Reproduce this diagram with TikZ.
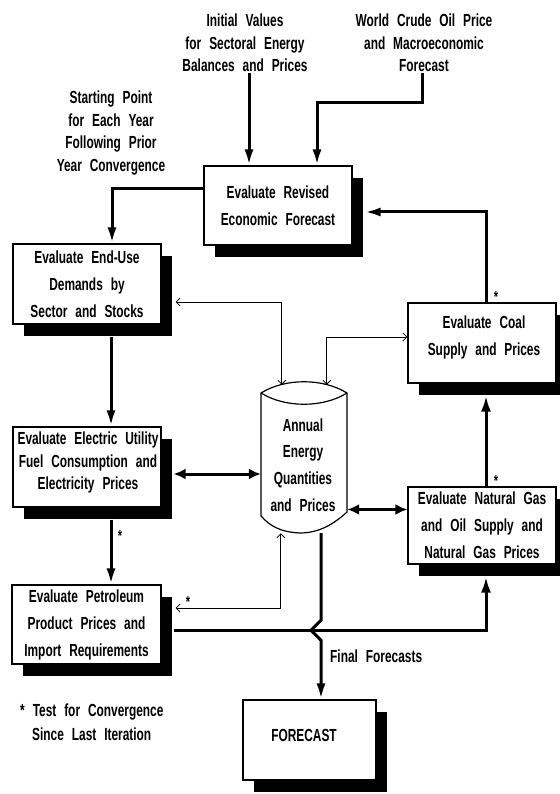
\documentclass[tikz,border=0pt]{standalone}
\usepackage{fontspec}
\setmainfont{Liberation Sans}[FakeStretch=0.68,WordSpace=2.4]
\usetikzlibrary{arrows.meta,shadows}
\tikzset{
  lbl/.style={font=\bfseries\fontsize{17.5}{22.5}\selectfont, align=center, inner sep=1pt},
  boxtxt/.style={font=\bfseries\fontsize{17.5}{27}\selectfont, align=center, inner sep=0pt},
  box/.style={draw, line width=1.2pt, fill=white, minimum width=148pt, minimum height=80pt,
    boxtxt, drop shadow={shadow xshift=11pt,shadow yshift=-12pt,opacity=1,fill=black}},
  heavy/.style={line width=3pt, -{Latex[length=16pt,width=9pt]}},
  heavyopen/.style={line width=3pt, -{Latex[open,length=16pt,width=10pt]}},
  heavyboth/.style={line width=3pt, {Latex[length=12pt,width=11pt]}-{Latex[length=12pt,width=11pt]}},
  light/.style={line width=0.8pt, {Straight Barb[length=4pt,width=8pt]}-{Straight Barb[length=4pt,width=8pt]}},
  star/.style={font=\bfseries\fontsize{16}{16}\selectfont, inner sep=0pt},
}
\begin{document}
\begin{tikzpicture}[x=1pt,y=-1pt]
\fill[white] (0,0) rectangle (559,794);
\useasboundingbox (0,0) rectangle (559,794);

% labels
\node[lbl] (iv) at (245,43) {Initial Values\\for Sectoral Energy\\Balances and Prices};
\node[lbl] (wo) at (424,43) {World Crude Oil Price\\and Macroeconomic\\Forecast};
\node[lbl] (sp) at (111,133) {Starting Point\\for Each Year\\Following Prior\\Year Convergence};

% boxes
\node[box, minimum height=79pt] (ref) at (278,205.5) {Evaluate Revised\\Economic Forecast};
\node[box] (eu) at (87,284) {Evaluate End-Use\\Demands by\\Sector and Stocks};
\node[box] (el) at (87,467) {};
\node[boxtxt, font=\bfseries\fontsize{17.5}{22.5}\selectfont] (elt) at (88,462.5) {Evaluate Electric Utility\\Fuel Consumption and\\Electricity Prices};
\node[box, minimum width=149pt, minimum height=79pt] (pe) at (86.5,624.5) {Evaluate Petroleum\\Product Prices and\\Import Requirements};
\node[box, minimum width=133pt] (fc) at (309.5,740) {};
\node[boxtxt] (fct) at (304,735) {FORECAST};
\node[box] (co) at (482,343) {};
\node[boxtxt] (cot) at (484,337) {Evaluate Coal\\Supply and Prices};
\node[box, minimum height=77pt] (ng) at (482,525.5) {Evaluate Natural Gas\\and Oil Supply and\\Natural Gas Prices};

% database geometry holder
\node[minimum width=86pt, minimum height=148pt, inner sep=0pt] (db) at (304,459) {};

% coordinates
\coordinate (e1) at ([xshift=12pt,yshift=-7pt]el.east);
\coordinate (g1) at ([yshift=16pt]ng.west);
\coordinate (t1) at ([xshift=14pt,yshift=-18pt]eu.east);
\coordinate (t2) at ([yshift=6pt]co.west);
\coordinate (t3) at ([xshift=14pt,yshift=16.5pt]pe.east);

% heavy connectors
\draw[heavy] ([xshift=4pt]iv.south) -- ([xshift=-29pt]ref.north);
\draw[heavy] ([xshift=-2pt]wo.south) -- ++(0,29) -| ([xshift=39pt]ref.north);
\draw[heavy] ([yshift=16.5pt]ref.west) -| ([xshift=25pt]eu.north);
\draw[heavy] ([xshift=24pt,yshift=-12pt]eu.south) -- ([xshift=24pt]el.north);
\draw[heavy] ([xshift=24pt,yshift=-12pt]el.south) -- ([xshift=24.5pt]pe.north);
\draw[heavyboth] (e1) -- (e1 -| db.west);
\draw[heavyboth] (g1 -| db.east) -- (g1);
\draw[heavyopen] ([xshift=4pt]ng.north) -- ([xshift=4pt,yshift=-12pt]co.south);
\draw[heavy] ([xshift=4pt]co.north) |- ([xshift=12pt,yshift=-6.5pt]ref.east);
\draw[heavyopen] ([xshift=12pt,yshift=-5.5pt]pe.east) -| ([xshift=4pt,yshift=-12pt]ng.south);
\draw[heavy] ([xshift=17pt]db.south) -- ++(0,87) -- ++(-10,10) -- ++(10,10) -- ([xshift=11.5pt]fc.north);

% light connectors
\draw[light] (t1) -| ([xshift=21pt]db.north west);
\draw[light] ([xshift=66pt]db.north west) |- (t2);
\draw[light] (t3) -| ([xshift=20pt]db.south west);

% database shape
\draw[line width=1.2pt, fill=white]
  (261,393) .. controls (285,378) and (323,378) .. (347,393)
  -- (347,512) .. controls (335,523) and (320,533) .. (300,533)
  .. controls (280,532) and (270,526) .. (261,516) -- cycle;
\draw[line width=1.2pt] (261,393) .. controls (285,408) and (323,408) .. (347,393);
\node[boxtxt, font=\bfseries\fontsize{17.5}{26.7}\selectfont] (dbt) at (303,465) {Annual\\Energy\\Quantities\\and Prices};

% stars
\node[star] (s1) at (120,536) {*};
\node[star] (s2) at (496,481) {*};
\node[star] (s3) at (496,297) {*};
\node[star] (s4) at (188,602) {*};

% other text
\node[lbl, anchor=west] (ff) at (329,656) {Final Forecasts};
\node[lbl, anchor=west] (lg1) at (19,712) {* Test for Convergence};
\node[lbl, anchor=west] (lg2) at (31,734) {Since Last Iteration};
\end{tikzpicture}
\end{document}
